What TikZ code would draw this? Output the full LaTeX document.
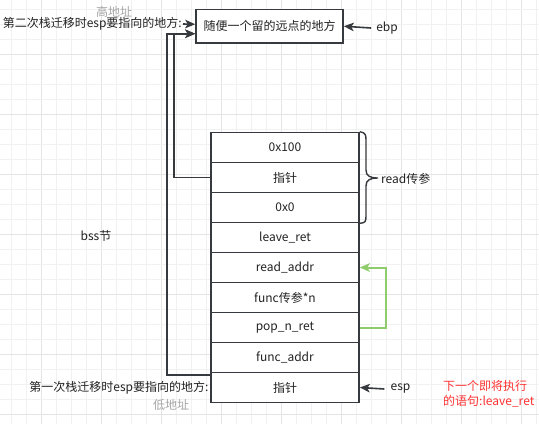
\documentclass[tikz,border=0pt]{standalone}
\usepackage{fontspec}
\setmainfont{Noto Sans CJK SC}
\usetikzlibrary{arrows.meta}
\definecolor{ink}{HTML}{36393D}
\definecolor{txt}{HTML}{222222}
\definecolor{gridminor}{HTML}{F1F1F1}
\definecolor{gridmajor}{HTML}{E4E4E4}
\definecolor{dimtxt}{HTML}{A6A6A6}
\definecolor{notered}{HTML}{FF3333}
\definecolor{loopgreen}{HTML}{8ECC6C}
\tikzset{
  cell/.style={draw=ink, line width=1.6pt, fill=white, minimum width=148pt,
    minimum height=30pt, inner sep=0pt, text=txt},
  plain/.style={text=txt, inner sep=1pt},
  tip/.style={-{Stealth[length=10pt,width=8.5pt,inset=2.5pt]}},
  arr/.style={draw=ink, line width=1.6pt, tip},
  link/.style={draw=ink, line width=1.6pt},
}
\begin{document}
\begin{tikzpicture}[x=1pt, y=-1pt, font=\fontsize{12}{14}\selectfont]
\useasboundingbox (0,0) rectangle (539,424);
\fill[white] (0,0) rectangle (539,424);

% background grid
\foreach \k in {0,...,35} {
  \pgfmathsetmacro{\gx}{11.7+15*\k}
  \pgfmathtruncatemacro{\m}{mod(\k,4)}
  \ifnum\m=2
    \draw[gridmajor, line width=1.2pt] (\gx,0) -- (\gx,424);
  \else
    \draw[gridminor, line width=1.2pt] (\gx,0) -- (\gx,424);
  \fi
}
\foreach \k in {0,...,27} {
  \pgfmathsetmacro{\gy}{9.3+15*\k}
  \pgfmathtruncatemacro{\m}{mod(\k,4)}
  \ifnum\m=3
    \draw[gridmajor, line width=1.2pt] (0,\gy) -- (539,\gy);
  \else
    \draw[gridminor, line width=1.2pt] (0,\gy) -- (539,\gy);
  \fi
}

% far-away target area
\node[cell, minimum width=147pt, minimum height=33.5pt] (top) at (269.5,26.25) {随便一个留的远点的地方};

% stack cells
\node[cell] (r1) at (285,147.5) {0x100};
\node[cell] (r2) at (285,177.5) {指针};
\node[cell] (r3) at (285,207.5) {0x0};
\node[cell] (r4) at (285,237.5) {leave\_ret};
\node[cell] (r5) at (285,267.5) {read\_addr};
\node[cell] (r6) at (285,297.5) {func传参*n};
\node[cell] (r7) at (285,327.5) {pop\_n\_ret};
\node[cell] (r8) at (285,357.5) {func\_addr};
\node[cell] (r9) at (285,387.5) {指针};

% brace over the read arguments
\draw[link, line width=1.4pt] (r1.north east) .. controls (366,133) and (366,135) .. (366,141)
  -- (366,170) .. controls (366,176) and (370,178) .. (378,178)
  .. controls (370,178) and (366,180) .. (366,186)
  -- (366,215) .. controls (366,221) and (366,223) .. (r3.south east);
\node[plain, anchor=west] (rd) at (380,179) {read传参};

% text labels
\node[plain, anchor=east] (lbl2) at (183,24) {第二次栈迁移时esp要指向的地方:};
\node[text=dimtxt, inner sep=0pt] (hi) at (114,11.5) {高地址};
\node[plain, inner sep=5pt] (ebp) at (387,28) {ebp};
\node[plain] (bss) at (96,236) {bss节};
\node[plain, anchor=east] (lbl1) at ([xshift=-0.5pt]r9.west) {第一次栈迁移时esp要指向的地方:};
\node[text=dimtxt, inner sep=0pt] (lo) at (171,405) {低地址};
\node[plain, inner sep=6pt] (esp) at (400.5,389) {esp};
\node[text=notered, anchor=west, align=left, inner sep=0pt,
  font=\fontsize{12}{15}\selectfont] (note) at (443,393.5) {下一个即将执行\\的语句:leave\_ret};

% connectors
\draw[arr] (lbl2.east) -- ([yshift=2pt]top.west);
\draw[arr] ([yshift=-3.5pt]r9.north west) -- ++(-43,0) |- ([yshift=-7.5pt]top.west);
\draw[arr] (r2.west) -- ++(-36,0) |- ([yshift=-7.5pt]top.west);
\draw[arr] (ebp.west) -- (top.east);
\draw[arr] (esp.west) -- (r9.east);
\draw[draw=loopgreen, line width=2pt, tip]
  (r7.east) -- ++(26,0) |- (r5.east);
\end{tikzpicture}
\end{document}
